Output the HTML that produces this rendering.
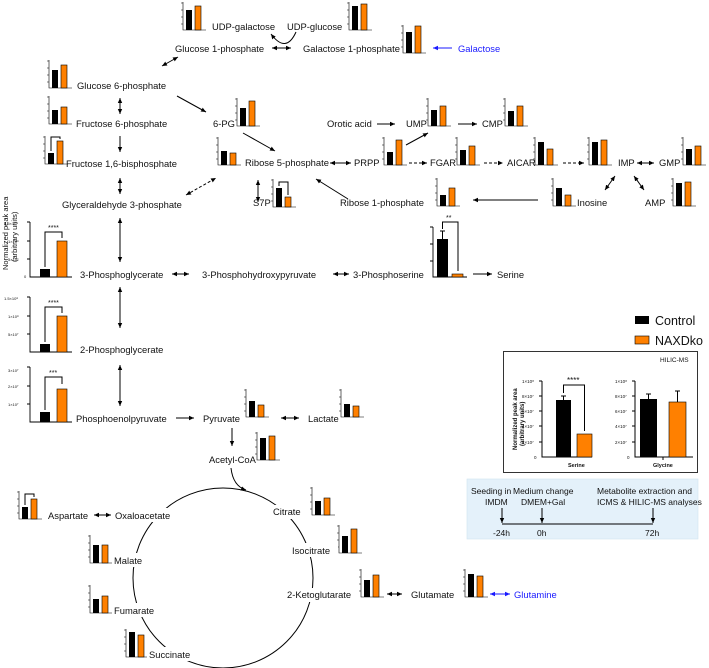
<!DOCTYPE html>
<html><head><meta charset="utf-8"><style>
html,body{margin:0;padding:0;background:#fff;}
svg{display:block;font-family:"Liberation Sans",sans-serif;}
text{font-size:9.4px;fill:#111;}
.o{fill:#ff8000;stroke:#000;stroke-width:.6}
.k{fill:#000}
.ln{stroke:#000;stroke-width:1;fill:none}
.t{font-size:4px}
</style></head><body>
<svg width="709" height="668" viewBox="0 0 709 668" xmlns="http://www.w3.org/2000/svg">
<defs>
<marker id="ae" markerWidth="6" markerHeight="6" refX="5" refY="3" orient="auto" markerUnits="userSpaceOnUse"><path d="M0,0.8L5,3L0,5.2z" fill="#000"/></marker>
<marker id="as" markerWidth="6" markerHeight="6" refX="1" refY="3" orient="auto" markerUnits="userSpaceOnUse"><path d="M6,0.8L1,3L6,5.2z" fill="#000"/></marker>
<marker id="be" markerWidth="6" markerHeight="6" refX="5" refY="3" orient="auto" markerUnits="userSpaceOnUse"><path d="M0,0.8L5,3L0,5.2z" fill="#1a1aff"/></marker>
<marker id="bs" markerWidth="6" markerHeight="6" refX="1" refY="3" orient="auto" markerUnits="userSpaceOnUse"><path d="M6,0.8L1,3L6,5.2z" fill="#1a1aff"/></marker>
<g id="ax"><path d="M0 -28V0H23M-2 -27H0M-2 -20H0M-2 -13H0M-2 -6H0" stroke="#000" stroke-width=".6" fill="none"/></g>
<g id="bx"><path d="M0 -55V0H42M-3 -55H0M-3 -36H0M-3 -18H0" stroke="#000" stroke-width=".9" fill="none"/></g>
</defs>

<g transform="translate(183,30)"><use href="#ax"/><rect class="k" x="3" y="-20" width="6" height="20"/><rect class="o" x="12" y="-24" width="6" height="24"/></g>
<g transform="translate(349,30)"><use href="#ax"/><rect class="k" x="3" y="-24" width="6" height="24"/><rect class="o" x="12" y="-26" width="6" height="26"/></g>
<g transform="translate(403,53)"><use href="#ax"/><rect class="k" x="3" y="-21" width="6" height="21"/><rect class="o" x="12" y="-27" width="6" height="27"/></g>
<g transform="translate(49,88)"><use href="#ax"/><rect class="k" x="3" y="-18" width="6" height="18"/><rect class="o" x="12" y="-23" width="6" height="23"/></g>
<g transform="translate(49,124)"><use href="#ax"/><rect class="k" x="3" y="-14" width="6" height="14"/><rect class="o" x="12" y="-17" width="6" height="17"/></g>
<g transform="translate(45,164)"><use href="#ax"/><rect class="k" x="3" y="-11" width="6" height="11"/><rect class="o" x="12" y="-23" width="6" height="23"/><path d="M6 -13V-27H15V-25" class="ln" stroke-width=".4"/></g>
<g transform="translate(237,126)"><use href="#ax"/><rect class="k" x="3" y="-18" width="6" height="18"/><rect class="o" x="12" y="-25" width="6" height="25"/></g>
<g transform="translate(218,165)"><use href="#ax"/><rect class="k" x="3" y="-14" width="6" height="14"/><rect class="o" x="12" y="-12" width="6" height="12"/></g>
<g transform="translate(273,207)"><use href="#ax"/><rect class="k" x="3" y="-19" width="6" height="19"/><rect class="o" x="12" y="-10" width="6" height="10"/><path d="M6 -21V-25H15V-12" class="ln" stroke-width=".4"/></g>
<g transform="translate(428,126)"><use href="#ax"/><rect class="k" x="3" y="-16" width="6" height="16"/><rect class="o" x="12" y="-20" width="6" height="20"/></g>
<g transform="translate(505,126)"><use href="#ax"/><rect class="k" x="3" y="-15" width="6" height="15"/><rect class="o" x="12" y="-20" width="6" height="20"/></g>
<g transform="translate(384,165)"><use href="#ax"/><rect class="k" x="3" y="-13" width="6" height="13"/><rect class="o" x="12" y="-25" width="6" height="25"/></g>
<g transform="translate(457,165)"><use href="#ax"/><rect class="k" x="3" y="-15" width="6" height="15"/><rect class="o" x="12" y="-19" width="6" height="19"/></g>
<g transform="translate(535,165)"><use href="#ax"/><rect class="k" x="3" y="-23" width="6" height="23"/><rect class="o" x="12" y="-16" width="6" height="16"/></g>
<g transform="translate(589,165)"><use href="#ax"/><rect class="k" x="3" y="-23" width="6" height="23"/><rect class="o" x="12" y="-25" width="6" height="25"/></g>
<g transform="translate(683,165)"><use href="#ax"/><rect class="k" x="3" y="-16" width="6" height="16"/><rect class="o" x="12" y="-19" width="6" height="19"/></g>
<g transform="translate(437,206)"><use href="#ax"/><rect class="k" x="3" y="-11" width="6" height="11"/><rect class="o" x="12" y="-18" width="6" height="18"/></g>
<g transform="translate(553,206)"><use href="#ax"/><rect class="k" x="3" y="-18" width="6" height="18"/><rect class="o" x="12" y="-11" width="6" height="11"/></g>
<g transform="translate(673,206)"><use href="#ax"/><rect class="k" x="3" y="-23" width="6" height="23"/><rect class="o" x="12" y="-24" width="6" height="24"/></g>
<g transform="translate(246,417)"><use href="#ax"/><rect class="k" x="3" y="-16" width="6" height="16"/><rect class="o" x="12" y="-12" width="6" height="12"/></g>
<g transform="translate(341,417)"><use href="#ax"/><rect class="k" x="3" y="-13" width="6" height="13"/><rect class="o" x="12" y="-11" width="6" height="11"/></g>
<g transform="translate(257,460)"><use href="#ax"/><rect class="k" x="3" y="-22" width="6" height="22"/><rect class="o" x="12" y="-24" width="6" height="24"/></g>
<g transform="translate(312,515)"><use href="#ax"/><rect class="k" x="3" y="-14" width="6" height="14"/><rect class="o" x="12" y="-17" width="6" height="17"/></g>
<g transform="translate(339,553)"><use href="#ax"/><rect class="k" x="3" y="-17" width="6" height="17"/><rect class="o" x="12" y="-24" width="6" height="24"/></g>
<g transform="translate(361,597)"><use href="#ax"/><rect class="k" x="3" y="-17" width="6" height="17"/><rect class="o" x="12" y="-22" width="6" height="22"/></g>
<g transform="translate(465,597)"><use href="#ax"/><rect class="k" x="3" y="-23" width="6" height="23"/><rect class="o" x="12" y="-21" width="6" height="21"/></g>
<g transform="translate(19,519)"><use href="#ax"/><rect class="k" x="3" y="-12" width="6" height="12"/><rect class="o" x="12" y="-20" width="6" height="20"/><path d="M6 -14V-25H15V-22" class="ln" stroke-width=".4"/></g>
<g transform="translate(90,563)"><use href="#ax"/><rect class="k" x="3" y="-18" width="6" height="18"/><rect class="o" x="12" y="-18" width="6" height="18"/></g>
<g transform="translate(90,613)"><use href="#ax"/><rect class="k" x="3" y="-14" width="6" height="14"/><rect class="o" x="12" y="-17" width="6" height="17"/></g>
<g transform="translate(126,657)"><use href="#ax"/><rect class="k" x="3" y="-25" width="6" height="25"/><rect class="o" x="12" y="-22" width="6" height="22"/></g>

<g transform="translate(30,277)"><use href="#bx"/><rect class="k" x="10" y="-8" width="10" height="8"/><rect class="o" x="27" y="-36" width="10" height="36"/><path d="M15 -10V-45H32V-39" class="ln" stroke-width=".7"/><text x="18" y="-47" style="font-size:7px">****</text><text x="-26" y="-52" class="t">1.5×10⁸</text><text x="-22" y="-34" class="t">1×10⁸</text><text x="-22" y="-16" class="t">5×10⁷</text><text x="-6" y="1" class="t">0</text></g>
<g transform="translate(30,352)"><use href="#bx"/><rect class="k" x="10" y="-8" width="10" height="8"/><rect class="o" x="27" y="-36" width="10" height="36"/><path d="M15 -10V-45H32V-39" class="ln" stroke-width=".7"/><text x="18" y="-47" style="font-size:7px">****</text><text x="-26" y="-52" class="t">1.5×10⁸</text><text x="-22" y="-34" class="t">1×10⁸</text><text x="-22" y="-16" class="t">5×10⁷</text></g>
<g transform="translate(30,422)"><use href="#bx"/><rect class="k" x="10" y="-10" width="10" height="10"/><rect class="o" x="27" y="-33" width="10" height="33"/><path d="M15 -12V-45H32V-38" class="ln" stroke-width=".7"/><text x="19" y="-47" style="font-size:7px">***</text><text x="-22" y="-50" class="t">3×10⁷</text><text x="-22" y="-34" class="t">2×10⁷</text><text x="-22" y="-16" class="t">1×10⁷</text></g>
<text transform="translate(8,270) rotate(-90)" style="font-size:7.5px">Normalized peak area</text>
<text transform="translate(17,262) rotate(-90)" style="font-size:7.5px">(arbitrary units)</text>
<g transform="translate(433,277)"><path d="M0 -50V0H34M-3 -50H0M-3 -33H0M-3 -16H0" stroke="#000" stroke-width=".9" fill="none"/><rect class="k" x="4" y="-38" width="11" height="38"/><path d="M9.5 -38V-46M7 -46H12" class="ln" stroke-width=".7"/><rect class="o" x="19" y="-3" width="11" height="3"/><path d="M9.5 -48V-55H25V-6" class="ln" stroke-width=".7"/><text x="13" y="-57" style="font-size:7px">**</text></g>

<text x="212" y="30">UDP-galactose</text>
<text x="287" y="30">UDP-glucose</text>
<text x="175" y="52">Glucose 1-phosphate</text>
<text x="303" y="52">Galactose 1-phosphate</text>
<text x="458" y="52" style="fill:#1a1aff">Galactose</text>
<text x="77" y="89">Glucose 6-phosphate</text>
<text x="76" y="127">Fructose 6-phosphate</text>
<text x="66" y="167">Fructose 1,6-bisphosphate</text>
<text x="62" y="208">Glyceraldehyde 3-phosphate</text>
<text x="213" y="127">6-PG</text>
<text x="245" y="166">Ribose 5-phosphate</text>
<text x="253" y="206">S7P</text>
<text x="354" y="166">PRPP</text>
<text x="327" y="127">Orotic acid</text>
<text x="406" y="127">UMP</text>
<text x="482" y="127">CMP</text>
<text x="430" y="166">FGAR</text>
<text x="507" y="166">AICAR</text>
<text x="618" y="166">IMP</text>
<text x="659" y="166">GMP</text>
<text x="340" y="206">Ribose 1-phosphate</text>
<text x="577" y="206">Inosine</text>
<text x="645" y="206">AMP</text>
<text x="80" y="278">3-Phosphoglycerate</text>
<text x="202" y="278">3-Phosphohydroxypyruvate</text>
<text x="353" y="278">3-Phosphoserine</text>
<text x="497" y="278">Serine</text>
<text x="80" y="353">2-Phosphoglycerate</text>
<text x="76" y="422">Phosphoenolpyruvate</text>
<text x="203" y="422">Pyruvate</text>
<text x="308" y="422">Lactate</text>
<text x="209" y="463">Acetyl-CoA</text>

<circle cx="223" cy="578" r="90" class="ln"/>
<g fill="#fff"><rect x="112" y="508" width="60" height="14"/><rect x="270" y="505" width="36" height="14"/><rect x="290" y="543" width="48" height="14"/><rect x="285" y="588" width="73" height="14"/><rect x="112" y="553" width="36" height="14"/><rect x="112" y="603" width="48" height="14"/><rect x="147" y="647" width="48" height="14"/></g>
<text x="48" y="519">Aspartate</text>
<text x="115" y="519">Oxaloacetate</text>
<text x="273" y="515">Citrate</text>
<text x="292" y="554">Isocitrate</text>
<text x="287" y="598">2-Ketoglutarate</text>
<text x="411" y="598">Glutamate</text>
<text x="514" y="598" style="fill:#1a1aff">Glutamine</text>
<text x="114" y="564">Malate</text>
<text x="114" y="614">Fumarate</text>
<text x="149" y="658">Succinate</text>

<g class="ln" stroke-width="0.9">
<path d="M296 32Q286 54 271 34" marker-end="url(#ae)"/>
<path d="M272 48H291" marker-start="url(#as)" marker-end="url(#ae)"/>
<path d="M162 66L178 57" marker-start="url(#as)" marker-end="url(#ae)"/>
<path d="M177 96L206 112" marker-end="url(#ae)"/>
<path d="M120 98V114" marker-start="url(#as)" marker-end="url(#ae)"/>
<path d="M120 136V152" marker-end="url(#ae)"/>
<path d="M120 178V194" marker-start="url(#as)" marker-end="url(#ae)"/>
<path d="M243 133L275 151" marker-end="url(#ae)"/>
<path d="M330 163H351" marker-start="url(#as)" marker-end="url(#ae)"/>
<path d="M186 195L216 178" stroke-dasharray="3,2" marker-start="url(#as)" marker-end="url(#ae)"/>
<path d="M258 180V202" marker-start="url(#as)" marker-end="url(#ae)"/>
<path d="M348 199L316 179" marker-end="url(#ae)"/>
<path d="M406 145L428 133" marker-end="url(#ae)"/>
<path d="M377 124H395" marker-end="url(#ae)"/>
<path d="M458 124H477" marker-end="url(#ae)"/>
<path d="M409 163H427" stroke-dasharray="3,2" marker-end="url(#ae)"/>
<path d="M484 163H503" stroke-dasharray="3,2" marker-end="url(#ae)"/>
<path d="M563 163H584" stroke-dasharray="3,2" marker-end="url(#ae)"/>
<path d="M637 163H654" marker-start="url(#as)" marker-end="url(#ae)"/>
<path d="M605 190L615 176" marker-start="url(#as)" marker-end="url(#ae)"/>
<path d="M634 176L644 190" marker-start="url(#as)" marker-end="url(#ae)"/>
<path d="M538 200H473" marker-end="url(#ae)"/>
<path d="M120 218V262" marker-start="url(#as)" marker-end="url(#ae)"/>
<path d="M172 274H189" marker-start="url(#as)" marker-end="url(#ae)"/>
<path d="M333 274H349" marker-start="url(#as)" marker-end="url(#ae)"/>
<path d="M473 274H492" marker-end="url(#ae)"/>
<path d="M120 287V328" marker-start="url(#as)" marker-end="url(#ae)"/>
<path d="M120 365V406" marker-start="url(#as)" marker-end="url(#ae)"/>
<path d="M176 418H194" marker-end="url(#ae)"/>
<path d="M281 418H299" marker-start="url(#as)" marker-end="url(#ae)"/>
<path d="M232 428V446" marker-end="url(#ae)"/>
<path d="M231 468Q233 486 246 490" marker-end="url(#ae)"/>
<path d="M94 515H111" marker-start="url(#as)" marker-end="url(#ae)"/>
<path d="M387 594H402" marker-start="url(#as)" marker-end="url(#ae)"/>
</g>
<g stroke="#1a1aff" stroke-width="0.9" fill="none">
<path d="M452 48H433" marker-end="url(#be)"/>
<path d="M490 594H510" marker-start="url(#bs)" marker-end="url(#be)"/>
</g>

<rect x="635" y="316" width="14" height="8" fill="#000"/>
<text x="655" y="325" style="font-size:12.5px">Control</text>
<rect x="635" y="336" width="14" height="8" fill="#ff8000" stroke="#000" stroke-width=".6"/>
<text x="655" y="345" style="font-size:12.5px">NAXDko</text>

<rect x="503.5" y="351.5" width="194" height="121" fill="#fff" stroke="#333" stroke-width="1"/>
<text x="660" y="362" style="font-size:6.5px">HILIC-MS</text>
<text transform="translate(517,450) rotate(-90)" style="font-size:6px;font-weight:bold">Normalized peak area</text>
<text transform="translate(524,446) rotate(-90)" style="font-size:6px;font-weight:bold">(arbitrary units)</text>
<g transform="translate(542,457)"><path d="M0 -76V0H50M-3 -76H0M-3 -61H0M-3 -46H0M-3 -31H0M-3 -15H0" stroke="#000" stroke-width="1" fill="none"/>
<rect class="k" x="14" y="-57" width="15" height="57"/><path d="M21.5 -57V-61M19 -61H24" class="ln" stroke-width=".8"/>
<rect class="o" x="35" y="-23" width="15" height="23"/>
<path d="M21.5 -64V-72H42.5V-26" class="ln" stroke-width=".8"/>
<text x="25" y="-74" style="font-size:8px">****</text>
<text x="-20" y="-74" style="font-size:4.5px">1×10⁸</text><text x="-20" y="-59" style="font-size:4.5px">8×10⁷</text><text x="-20" y="-44" style="font-size:4.5px">6×10⁷</text><text x="-20" y="-29" style="font-size:4.5px">4×10⁷</text><text x="-20" y="-13" style="font-size:4.5px">2×10⁷</text><text x="-8" y="2" style="font-size:4.5px">0</text>
<text x="26" y="10" style="font-size:5.5px;font-weight:bold">Serine</text></g>
<g transform="translate(635,457)"><path d="M0 -76V0H58M-3 -76H0M-3 -61H0M-3 -46H0M-3 -31H0M-3 -15H0M28 0V3" stroke="#000" stroke-width="1" fill="none"/>
<rect class="k" x="5" y="-58" width="17" height="58"/><path d="M13.5 -58V-63M11 -63H16" class="ln" stroke-width=".8"/>
<rect class="o" x="34" y="-55" width="17" height="55"/><path d="M42.5 -55V-66M40 -66H45" class="ln" stroke-width=".8"/>
<text x="-20" y="-74" style="font-size:4.5px">1×10⁸</text><text x="-20" y="-59" style="font-size:4.5px">8×10⁷</text><text x="-20" y="-44" style="font-size:4.5px">6×10⁷</text><text x="-20" y="-29" style="font-size:4.5px">4×10⁷</text><text x="-20" y="-13" style="font-size:4.5px">2×10⁷</text><text x="-8" y="2" style="font-size:4.5px">0</text>
<text x="18" y="10" style="font-size:5.5px;font-weight:bold">Glycine</text></g>

<rect x="467" y="479" width="231" height="60" fill="#e4f1fa" stroke="#d0e4f0" stroke-width=".6"/>
<text x="471" y="494" style="font-size:8.5px">Seeding in</text>
<text x="485" y="505" style="font-size:8.5px">IMDM</text>
<text x="513" y="494" style="font-size:8.5px">Medium change</text>
<text x="521" y="505" style="font-size:8.5px">DMEM+Gal</text>
<text x="597" y="494" style="font-size:8.5px">Metabolite extraction and</text>
<text x="597" y="505" style="font-size:8.5px">ICMS &amp; HILIC-MS analyses</text>
<text x="493" y="536" style="font-size:8.5px">-24h</text>
<text x="537" y="536" style="font-size:8.5px">0h</text>
<text x="645" y="536" style="font-size:8.5px">72h</text>
<g class="ln" stroke="#444">
<path d="M502 524H653"/>
<path d="M502 508V523" marker-end="url(#ae)"/>
<path d="M542 508V523" marker-end="url(#ae)"/>
<path d="M653 508V523" marker-end="url(#ae)"/>
</g>
</svg>
</body></html>
